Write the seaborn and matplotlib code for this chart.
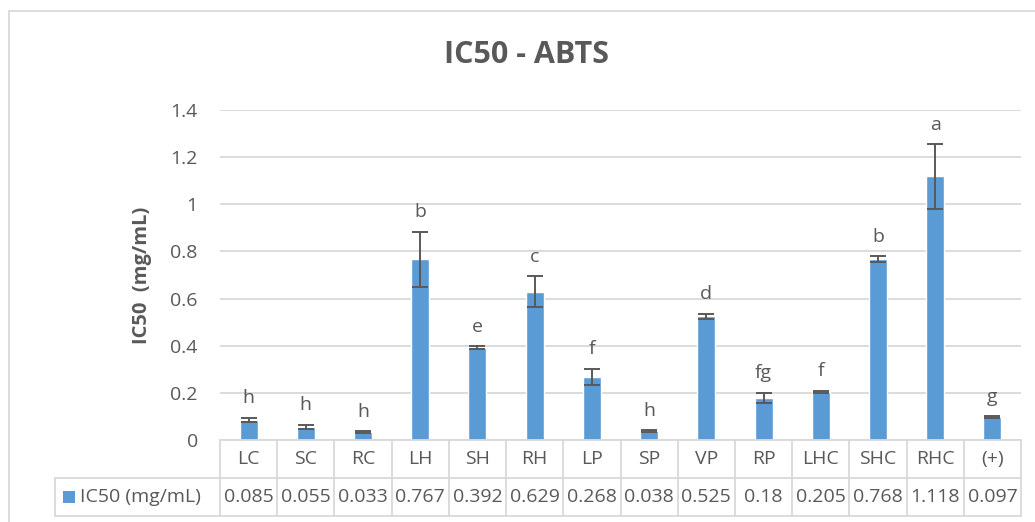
import numpy as np
import pandas as pd
import seaborn as sns
import matplotlib.pyplot as plt
import matplotlib.transforms as mtransforms
from matplotlib.patches import Rectangle

# --- data ---
samples = ["LC", "SC", "RC", "LH", "SH", "RH", "LP", "SP", "VP", "RP", "LHC", "SHC", "RHC", "(+)"]
ic50 = [0.085, 0.055, 0.033, 0.767, 0.392, 0.629, 0.268, 0.038, 0.525, 0.18, 0.205, 0.768, 1.118, 0.097]
ic50_labels = ["0.085", "0.055", "0.033", "0.767", "0.392", "0.629", "0.268", "0.038",
               "0.525", "0.18", "0.205", "0.768", "1.118", "0.097"]
ic50_err = [0.009, 0.009, 0.004, 0.117, 0.006, 0.066, 0.033, 0.003, 0.011, 0.021, 0.004, 0.011, 0.136, 0.003]
letters = ["h", "h", "h", "b", "e", "c", "f", "h", "d", "fg", "f", "b", "a", "g"]
series_name = "IC50 (mg/mL)"

df = pd.DataFrame({"sample": samples, "ic50": ic50})

sns.set_theme(style="white")
plt.rcParams["font.family"] = ["Open Sans", "DejaVu Sans"]

BLUE = "#5B9BD5"
TXT = "#595959"
GRID = "#D9D9D9"
FS = 14

fig = plt.figure(figsize=(10.35, 5.22), dpi=100)
ax = fig.add_axes([220 / 1035, 1 - 440 / 522, 801 / 1035, 330 / 522])

sns.barplot(data=df, x="sample", y="ic50", color=BLUE, width=0.315,
            saturation=1, errorbar=None, ax=ax)
x = np.arange(len(samples))
ax.errorbar(x, ic50, yerr=ic50_err, fmt="none", ecolor=TXT, elinewidth=1.4,
            capsize=5.5, capthick=1.4, zorder=3)

# significance letters above error bars
for xi, v, e, lab in zip(x, ic50, ic50_err, letters):
    ax.annotate(lab, (xi, v + e), xytext=(0, 10.5), textcoords="offset points",
                ha="center", va="baseline", fontsize=FS, color=TXT)

ax.set_xlim(-0.5, len(samples) - 0.5)
ax.set_ylim(0, 1.4)
ax.set_yticks(np.arange(0, 1.41, 0.2))
ax.set_yticklabels(["0", "0.2", "0.4", "0.6", "0.8", "1", "1.2", "1.4"])
ax.tick_params(axis="y", length=0, pad=16, labelsize=FS, labelcolor=TXT)
ax.set_xticks([])
ax.set_xlabel("")
ax.set_ylabel("IC50  (mg/mL)", fontsize=14.5, fontweight="bold", color=TXT, labelpad=13)
ax.yaxis.grid(True, color=GRID, linewidth=1.3)
ax.set_axisbelow(True)
for s in ax.spines.values():
    s.set_visible(False)

fig.text(527 / 1035, 1 - 55 / 522, "IC50 - ABTS", fontsize=22, fontweight="bold",
         color=TXT, ha="center", va="center")

# --- data table under the axis ---
tr = mtransforms.blended_transform_factory(ax.transData, ax.transAxes)
row1 = -38 / 330
row2 = -76 / 330
px = len(samples) / 801
left_cell = -0.5 + (55 - 220) * px
lw = 1.3
# horizontal lines
ax.plot([-0.5, len(samples) - 0.5], [0, 0], transform=tr, color=GRID, lw=lw, clip_on=False)
ax.plot([left_cell, len(samples) - 0.5], [row1, row1], transform=tr, color=GRID, lw=lw, clip_on=False)
ax.plot([left_cell, len(samples) - 0.5], [row2, row2], transform=tr, color=GRID, lw=lw, clip_on=False)
# vertical lines
for b in np.arange(-0.5, len(samples), 1.0):
    ax.plot([b, b], [0, row2], transform=tr, color=GRID, lw=lw, clip_on=False)
ax.plot([left_cell, left_cell], [row1, row2], transform=tr, color=GRID, lw=lw, clip_on=False)

for xi, s, lab in zip(x, samples, ic50_labels):
    ax.text(xi, row1 / 2, s, transform=tr, ha="center", va="center",
            fontsize=FS, color=TXT, clip_on=False)
    ax.text(xi, (row1 + row2) / 2, lab, transform=tr, ha="center", va="center",
            fontsize=FS, color=TXT, clip_on=False)

# legend key inside the table
ax.add_patch(Rectangle((left_cell + 8 * px, (row1 + row2) / 2 - 6 / 330),
                       12 * px, 12 / 330, transform=tr, facecolor=BLUE, edgecolor="none",
                       clip_on=False))
ax.text(left_cell + 25 * px, (row1 + row2) / 2, series_name, transform=tr,
        ha="left", va="center", fontsize=FS, color=TXT, clip_on=False)

# chart area border (left and top edges visible)
fig.add_artist(plt.Line2D([8.5 / 1035, 8.5 / 1035], [0, 1 - 11 / 522], color=GRID, lw=1.3))
fig.add_artist(plt.Line2D([8.5 / 1035, 1], [1 - 11 / 522, 1 - 11 / 522], color=GRID, lw=1.3))

fig.savefig("out.png", dpi=100, facecolor="white")
